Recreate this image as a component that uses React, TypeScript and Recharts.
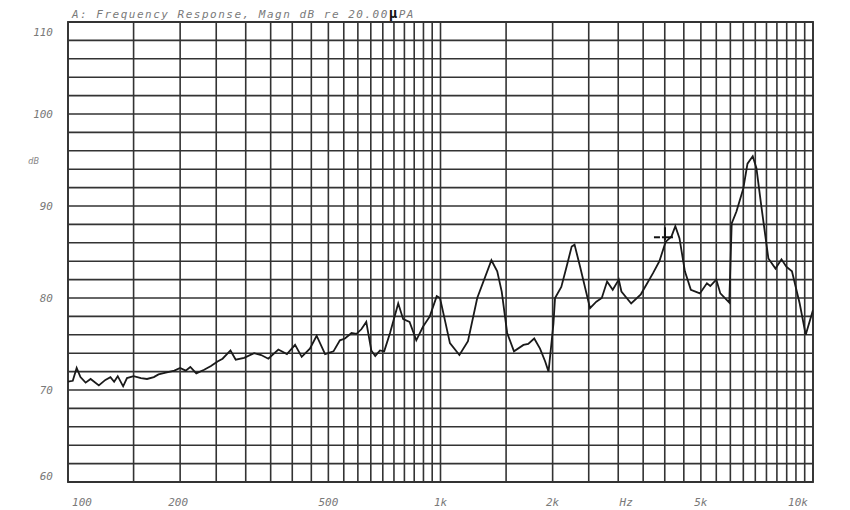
import {
  CartesianGrid,
  Line,
  LineChart,
  ReferenceArea,
  ReferenceDot,
  XAxis,
  YAxis,
} from "recharts";

// measured points (Hz, dB re 20 uPa)
const freqs = [
  100, 103, 105.5, 108, 111.5, 115, 121, 126, 130, 133, 136, 140.6, 144, 150, 157, 163, 170, 175,
  183, 193, 200, 207, 213, 221, 232, 242, 252, 260, 273, 282, 297, 316, 330, 345, 367, 387, 407,
  424, 446, 465, 490, 516, 537, 554, 577, 595, 613, 632, 652, 668, 688, 706, 732, 770, 794, 826,
  861, 898, 936, 977, 997, 1030, 1060, 1124, 1185, 1255, 1370, 1420, 1460, 1510, 1575, 1670, 1720,
  1785, 1850, 1910, 1950, 2010, 2030, 2110, 2180, 2250, 2290, 2370, 2520, 2620, 2710, 2800, 2900,
  3010, 3060, 3250, 3450, 3720, 3870, 4020, 4170, 4270, 4380, 4530, 4700, 4970, 5190, 5300, 5500,
  5640, 5960, 6050, 6230, 6500, 6670, 6890, 7050, 7270, 7590, 7930, 8230, 8480, 8780, 9210, 9560,
  10000,
];

const levels = [
  70.9, 71.0, 72.4, 71.4, 70.8, 71.2, 70.5, 71.1, 71.4, 70.9, 71.5, 70.4, 71.3, 71.5, 71.3, 71.2,
  71.4, 71.7, 71.9, 72.1, 72.4, 72.1, 72.5, 71.8, 72.2, 72.6, 73.1, 73.4, 74.3, 73.3, 73.5, 74.0,
  73.8, 73.4, 74.4, 73.9, 74.9, 73.6, 74.5, 75.9, 73.9, 74.2, 75.4, 75.6, 76.2, 76.1, 76.6, 77.4,
  74.3, 73.7, 74.3, 74.2, 76.2, 79.4, 77.7, 77.4, 75.4, 76.9, 78.0, 80.2, 80.0, 77.4, 75.1, 73.8,
  75.3, 80.0, 84.1, 82.9, 80.7, 76.2, 74.2, 74.9, 75.0, 75.6, 74.5, 73.1, 72.0, 77.2, 80.0, 81.2,
  83.4, 85.6, 85.8, 83.4, 78.9, 79.6, 80.0, 81.8, 80.9, 82.0, 80.7, 79.4, 80.4, 82.7, 84.0, 86.1,
  86.7, 87.8, 86.5, 82.9, 80.9, 80.5, 81.6, 81.3, 82.0, 80.5, 79.5, 88.1, 89.4, 91.9, 94.6, 95.4,
  94.1, 89.9, 84.3, 83.2, 84.2, 83.4, 82.9, 79.4, 76.0, 78.7,
];

// grid lines: every 50 Hz below 1k, every 500 Hz above
const xGrid = [
  100, 150, 200, 250, 300, 350, 400, 450, 500, 550, 600, 650, 700, 750, 800, 850, 900, 950, 1000,
  1500, 2000, 2500, 3000, 3500, 4000, 4500, 5000, 5500, 6000, 6500, 7000, 7500, 8000, 8500, 9000,
  9500, 10000,
];
const yGrid = [
  60, 62, 64, 66, 68, 70, 72, 74, 76, 78, 80, 82, 84, 86, 88, 90, 92, 94, 96, 98, 100, 102, 104,
  106, 108, 110,
];

const xLabelValues = [100, 200, 500, 1000, 2000, 3000, 5000, 10000];
const xLabelTexts = ["100", "200", "500", "1k", "2k", "Hz", "5k", "10k"];
const yLabelValues = [60, 70, 80, 90, 100, 110];

const cursorFreq = 3980;
const cursorLevel = 86.6;

const data = freqs.map((f, i) => ({ f, db: levels[i] }));

const LABEL_FONT = {
  fontFamily: "'DejaVu Sans Mono', monospace",
  fontStyle: "italic" as const,
  fontSize: 11,
  fill: "#7a7a7a",
};

function FreqTick(props: any) {
  const { x, y, payload } = props;
  const idx = xLabelValues.indexOf(payload.value);
  if (idx < 0) return <g />;
  let dx = 0;
  if (payload.value === 100) dx = 14;
  if (payload.value === 10000) dx = -15;
  if (payload.value === 3000) dx = 8;
  if (payload.value === 200) dx = -2;
  return (
    <text x={x + dx} y={y + 24} textAnchor="middle" {...LABEL_FONT}>
      {xLabelTexts[idx]}
    </text>
  );
}

function LevelTick(props: any) {
  const { x, y, payload } = props;
  if (!yLabelValues.includes(payload.value)) return <g />;
  let dy = 4;
  if (payload.value === 110) dy = 14;
  if (payload.value === 60) dy = -2;
  return (
    <text x={x - 15} y={y + dy} textAnchor="end" {...LABEL_FONT}>
      {payload.value}
    </text>
  );
}

function CursorMark(props: any) {
  const { cx, cy } = props;
  return (
    <g stroke="#111" strokeWidth={2}>
      <line x1={cx - 10} y1={cy} x2={cx - 4} y2={cy} />
      <line x1={cx - 2} y1={cy} x2={cx + 9} y2={cy} />
      <line x1={cx + 1} y1={cy - 10} x2={cx + 1} y2={cy + 3} />
    </g>
  );
}

export default function App() {
  return (
    <div style={{ position: "relative", width: 834, height: 502 }}>
      <div
        style={{
          position: "absolute",
          left: 64,
          top: -1,
          fontFamily: "'DejaVu Sans Mono', monospace",
          fontStyle: "italic",
          fontSize: 11,
          lineHeight: "12px",
          letterSpacing: 1.5,
          color: "#7a7a7a",
          whiteSpace: "pre",
        }}
      >
        A: Frequency Response, Magn dB re 20.00
        <span style={{ fontWeight: "bold", fontStyle: "normal", fontSize: 14, color: "#111" }}>μ</span>
        PA
      </div>
      <div
        style={{
          position: "absolute",
          left: 20,
          top: 148,
          fontFamily: "'DejaVu Sans Mono', monospace",
          fontStyle: "italic",
          fontSize: 9,
          color: "#8a8a8a",
        }}
      >
        dB
      </div>
      <LineChart width={834} height={502} data={data} margin={{ top: 14, right: 29, bottom: 0, left: 10 }}>
        <CartesianGrid stroke="#333" strokeWidth={1.6} />
        <XAxis
          dataKey="f"
          type="number"
          scale="log"
          domain={[100, 10000]}
          ticks={xGrid}
          interval={0}
          allowDataOverflow
          axisLine={false}
          tickLine={false}
          tickSize={0}
          tickMargin={0}
          height={28}
          tick={<FreqTick />}
        />
        <YAxis
          type="number"
          domain={[60, 110]}
          ticks={yGrid}
          interval={0}
          axisLine={false}
          tickLine={false}
          tickSize={0}
          tickMargin={0}
          width={50}
          tick={<LevelTick />}
        />
        <ReferenceArea x1={100} x2={10000} y1={60} y2={110} fill="none" stroke="#333" strokeWidth={1.8} />
        <Line
          dataKey="db"
          type="linear"
          stroke="#1a1a1a"
          strokeWidth={1.8}
          dot={false}
          isAnimationActive={false}
        />
        <ReferenceDot x={cursorFreq} y={cursorLevel} shape={<CursorMark />} />
      </LineChart>
    </div>
  );
}
